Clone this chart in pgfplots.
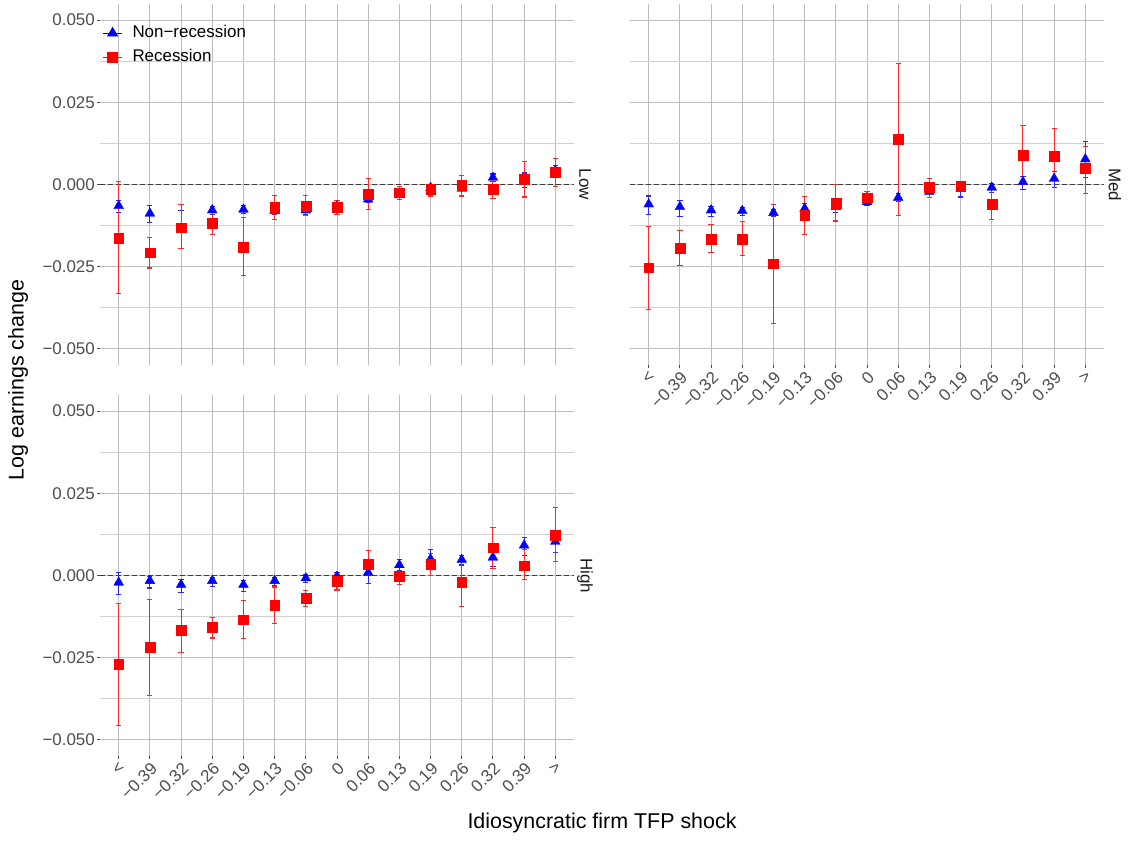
\documentclass[border=0pt]{standalone}
\usepackage{fontspec}
\setmainfont{Liberation Sans}
\usepackage{pgfplots}
\usepackage{pgfplotstable}
\pgfplotsset{compat=1.18}
\definecolor{gridmaj}{RGB}{190,190,190}
\definecolor{gridmin}{RGB}{208,208,208}
\definecolor{tickc}{RGB}{77,77,77}
\definecolor{stripc}{RGB}{26,26,26}
\definecolor{zeroc}{RGB}{60,60,60}
\definecolor{errred}{RGB}{250,40,40}
\definecolor{errblue}{RGB}{40,40,250}

% Low
\pgfplotstableread{
x y lo hi
1 -0.0065 -0.0085 -0.0050
2 -0.0088 -0.0116 -0.0065
3 -0.0135 -0.0194 -0.0080
4 -0.0078 -0.0090 -0.0066
5 -0.0076 -0.0087 -0.0065
6 -0.0080 -0.0090 -0.0068
7 -0.0078 -0.0090 -0.0066
8 -0.0066 -0.0078 -0.0050
9 -0.0045 -0.0055 -0.0035
10 -0.0032 -0.0040 -0.0022
11 -0.0010 -0.0018 -0.0002
12 -0.0012 -0.0035 0.0010
13 0.0021 0.0010 0.0032
14 0.0013 -0.0010 0.0035
15 0.0042 0.0028 0.0058
}\lowblue
\pgfplotstableread{
x y lo hi
1 -0.0162 -0.0332 0.0010
2 -0.0207 -0.0254 -0.0161
3 -0.0131 -0.0194 -0.0060
4 -0.0117 -0.0151 -0.0085
5 -0.0190 -0.0276 -0.0100
6 -0.0070 -0.0106 -0.0033
7 -0.0067 -0.0095 -0.0034
8 -0.0068 -0.0090 -0.0048
9 -0.0030 -0.0076 0.0017
10 -0.0025 -0.0046 -0.0007
11 -0.0015 -0.0035 -0.0003
12 -0.0002 -0.0035 0.0028
13 -0.0014 -0.0043 0.0018
14 0.0016 -0.0038 0.0070
15 0.0038 -0.0005 0.0080
}\lowred
% Med
\pgfplotstableread{
x y lo hi
1 -0.0060 -0.0092 -0.0035
2 -0.0068 -0.0096 -0.0050
3 -0.0078 -0.0096 -0.0068
4 -0.0080 -0.0095 -0.0070
5 -0.0086 -0.0098 -0.0075
6 -0.0073 -0.0090 -0.0058
7 -0.0068 -0.0085 -0.0055
8 -0.0053 -0.0065 -0.0042
9 -0.0040 -0.0052 -0.0028
10 -0.0022 -0.0040 -0.0005
11 -0.0012 -0.0038 0.0000
12 -0.0009 -0.0025 0.0002
13 0.0008 -0.0015 0.0025
14 0.0018 -0.0010 0.0040
15 0.0077 0.0020 0.0130
}\medblue
\pgfplotstableread{
x y lo hi
1 -0.0253 -0.0379 -0.0127
2 -0.0193 -0.0246 -0.0139
3 -0.0165 -0.0207 -0.0123
4 -0.0165 -0.0216 -0.0113
5 -0.0241 -0.0422 -0.0060
6 -0.0092 -0.0151 -0.0037
7 -0.0056 -0.0111 0.0000
8 -0.0040 -0.0060 -0.0022
9 0.0139 -0.0094 0.0368
10 -0.0007 -0.0040 0.0017
11 -0.0005 -0.0015 0.0008
12 -0.0060 -0.0106 -0.0012
13 0.0090 0.0000 0.0180
14 0.0087 0.0013 0.0170
15 0.0050 -0.0027 0.0115
}\medred
% High
\pgfplotstableread{
x y lo hi
1 -0.0021 -0.0059 0.0009
2 -0.0016 -0.0038 -0.0003
3 -0.0028 -0.0052 -0.0012
4 -0.0016 -0.0033 -0.0005
5 -0.0028 -0.0050 -0.0015
6 -0.0016 -0.0030 -0.0005
7 -0.0008 -0.0022 0.0002
8 -0.0003 -0.0018 0.0009
9 0.0009 -0.0025 0.0032
10 0.0032 0.0014 0.0050
11 0.0050 0.0017 0.0080
12 0.0048 0.0032 0.0062
13 0.0055 0.0027 0.0075
14 0.0092 0.0061 0.0116
15 0.0103 0.0071 0.0129
}\highblue
\pgfplotstableread{
x y lo hi
1 -0.0270 -0.0455 -0.0086
2 -0.0219 -0.0365 -0.0072
3 -0.0167 -0.0233 -0.0102
4 -0.0158 -0.0190 -0.0129
5 -0.0134 -0.0193 -0.0075
6 -0.0091 -0.0145 -0.0035
7 -0.0070 -0.0094 -0.0045
8 -0.0018 -0.0044 0.0004
9 0.0035 0.0000 0.0076
10 -0.0003 -0.0028 0.0012
11 0.0034 0.0000 0.0068
12 -0.0021 -0.0095 0.0050
13 0.0085 0.0022 0.0147
14 0.0030 -0.0013 0.0078
15 0.0123 0.0043 0.0207
}\highred

\newcommand{\tfont}{\fontsize{17}{20}\selectfont}
\newcommand{\afont}{\fontsize{21.5}{25}\selectfont}

\pgfplotsset{
  panel/.style={
    scale only axis, width=474bp, height=361bp,
    xmin=0.4, xmax=15.6, ymin=-0.0549, ymax=0.0549,
    axis x line=bottom, axis y line=left,
    axis line style={draw=none,-},
    scaled y ticks=false,
    xtick={1,...,15},
    ytick={-0.05,-0.025,0,0.025,0.05},
    minor ytick={-0.0375,-0.0125,0.0125,0.0375},
    grid=both,
    major grid style={color=gridmaj, line width=1bp},
    minor grid style={color=gridmin, line width=0.9bp},
    tick align=outside, major tick length=3bp, minor tick length=0pt,
    tick style={color=tickc, line width=0.9bp},
    tick label style={font=\tfont, text=tickc},
    xticklabel style={rotate=45, anchor=north east, inner sep=1.5bp},
    yticklabel style={inner sep=2bp},
    clip=false,
  },
  noxlab/.style={xticklabels={}, xtick style={draw=none}},
  noylab/.style={yticklabels={}, ytick style={draw=none}},
  xlab/.style={xticklabels={{<},{−0.39},{−0.32},{−0.26},{−0.19},{−0.13},{−0.06},{0},{0.06},{0.13},{0.19},{0.26},{0.32},{0.39},{>}}},
  ylab/.style={yticklabels={{−0.050},{−0.025},{0.000},{0.025},{0.050}}},
  bluep/.style={forget plot, only marks, color=blue, mark=triangle*, mark size=5.7bp,
    mark options={solid, line width=0.3bp},
    error bars/.cd, y dir=both, y explicit,
    error bar style={line width=1.05bp, draw=errblue},
    error mark options={rotate=90, mark size=2.6bp, line width=1.05bp, draw=errblue}},
  redp/.style={forget plot, only marks, color=red, mark=square*, mark size=4.9bp,
    mark options={solid, line width=0.3bp},
    error bars/.cd, y dir=both, y explicit,
    error bar style={line width=1.05bp, draw=errred},
    error mark options={rotate=90, mark size=2.6bp, line width=1.05bp, draw=errred}},
  zerol/.style={forget plot, color=zeroc, line width=1.6bp, dash pattern=on 4.5bp off 3.5bp},
  table/errtab/.style={x=x, y=y, y error plus expr=\thisrow{hi}-\thisrow{y}, y error minus expr=\thisrow{y}-\thisrow{lo}},
}

\begin{document}
\begin{tikzpicture}[x=1bp,y=1bp]
\path[use as bounding box] (0,0) rectangle (1131,-841);

% Low
\begin{axis}[panel, noxlab, ylab, at={(100bp,-4bp)}, anchor=north west,
  legend style={at={(0,1)}, anchor=north west, xshift=2.5bp, yshift=-21bp,
    draw=none, fill=none, font=\tfont, inner sep=0pt, row sep=8bp, column sep=0pt,
    nodes={inner sep=0pt, text height=12.5bp, text depth=3.5bp}, cells={anchor=west}},
  legend cell align=left,
  legend image code/.code={\draw[mark repeat=2,mark phase=2,#1] plot coordinates {(0bp,0bp) (9.5bp,0bp) (19bp,0bp)}; \path (29bp,0bp);},
  ]
\addplot[zerol] coordinates {(0.4,0) (15.6,0)};
\addplot[bluep] table[errtab] {\lowblue};
\addplot[redp] table[errtab] {\lowred};
\addlegendimage{color=blue, mark=triangle*, mark size=5.7bp, line width=0.8bp}
\addlegendentry{Non−recession}
\addlegendimage{color=red, mark=square*, mark size=4.9bp, line width=0.8bp}
\addlegendentry{Recession}
\node[rotate=-90, font=\tfont, text=stripc] at (rel axis cs:1.0232,0.5) {Low};
\end{axis}

% Med
\begin{axis}[panel, xlab, noylab, at={(630bp,-4bp)}, anchor=north west]
\addplot[zerol] coordinates {(0.4,0) (15.6,0)};
\addplot[bluep] table[errtab] {\medblue};
\addplot[redp] table[errtab] {\medred};
\node[rotate=-90, font=\tfont, text=stripc] at (rel axis cs:1.0232,0.5) {Med};
\end{axis}

% High
\begin{axis}[panel, xlab, ylab, at={(100bp,-395bp)}, anchor=north west]
\addplot[zerol] coordinates {(0.4,0) (15.6,0)};
\addplot[bluep] table[errtab] {\highblue};
\addplot[redp] table[errtab] {\highred};
\node[rotate=-90, font=\tfont, text=stripc] at (rel axis cs:1.0232,0.5) {High};
\end{axis}

\node[font=\afont] at (602,-823) {Idiosyncratic firm TFP shock};
\node[font=\afont, rotate=90] at (18,-380) {Log earnings change};
\end{tikzpicture}
\end{document}
